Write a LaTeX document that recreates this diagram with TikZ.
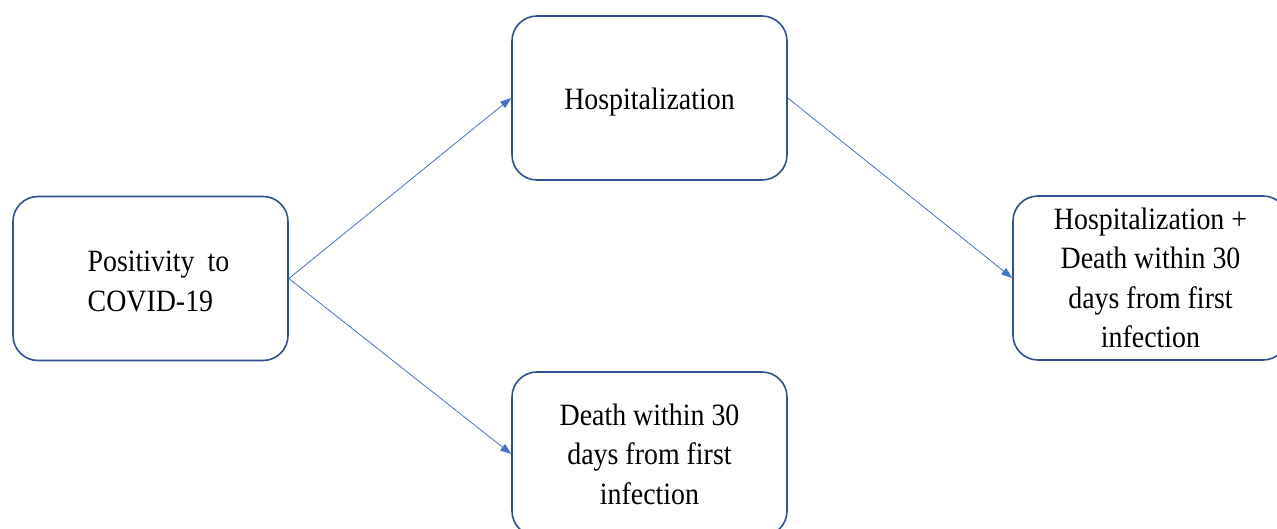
\documentclass[tikz,border=0pt]{standalone}
\usepackage{fontspec}
\setmainfont{Liberation Serif}[FakeStretch=0.9]
\usetikzlibrary{arrows.meta}
\definecolor{boxblue}{HTML}{2F528F}
\definecolor{arrowblue}{HTML}{4472C4}
\begin{document}
\begin{tikzpicture}[x=1pt,y=1pt,
  box/.style={draw=boxblue, line width=1.6pt, rounded corners=25pt,
    minimum width=275pt, minimum height=164pt, inner sep=0pt,
    align=center, font=\fontsize{31pt}{39.5pt}\selectfont},
  conn/.style={draw=arrowblue, line width=0.8pt,
    -{Triangle[length=11pt,width=8pt]}}]
\useasboundingbox (0,0) rectangle (1277,-529);
\begin{scope}
\clip (0,0) rectangle (1277,-529);
\node[box] (pos) at (150.5,-278.5) {\hspace*{16pt}\rule{0pt}{56pt}\begin{tabular}{@{}l@{}}Positivity\hspace{13pt}to\\COVID-19\end{tabular}};
\node[box] (hosp) at (649.5,-98) {\raisebox{0pt}[24pt][0pt]{Hospitalization}};
\node[box] (death) at (649.5,-454) {Death within 30\\days from first\\infection};
\node[box] (both) at (1150.5,-278) {Hospitalization +\\Death within 30\\days from first\\infection};
\end{scope}
\draw[conn] (pos.east) -- (hosp.west);
\draw[conn] (pos.east) -- (death.west);
\draw[conn] (hosp.east) -- (both.west);
\end{tikzpicture}
\end{document}
